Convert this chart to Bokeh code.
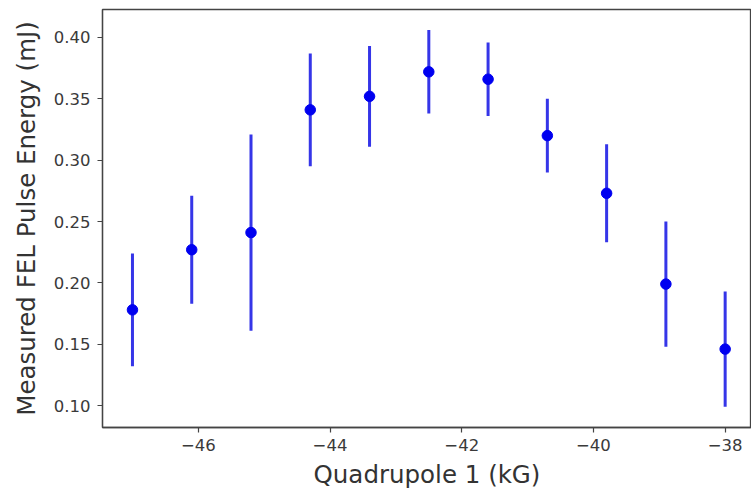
from bokeh.plotting import figure
from bokeh.models import Range1d, FixedTicker, ColumnDataSource
from bokeh.embed import file_html
from bokeh.resources import INLINE

# Data
quad_kG = [-47.0, -46.1, -45.2, -44.3, -43.4, -42.5, -41.6, -40.7, -39.8, -38.9, -38.0]
energy_mJ = [0.178, 0.227, 0.241, 0.341, 0.352, 0.372, 0.366, 0.320, 0.273, 0.199, 0.146]
energy_err = [0.046, 0.044, 0.080, 0.046, 0.041, 0.034, 0.030, 0.030, 0.040, 0.051, 0.047]

x_ticks = [-46, -44, -42, -40, -38]
x_tick_labels = ["\u221246", "\u221244", "\u221242", "\u221240", "\u221238"]
y_ticks = [0.10, 0.15, 0.20, 0.25, 0.30, 0.35, 0.40]
y_tick_labels = ["0.10", "0.15", "0.20", "0.25", "0.30", "0.35", "0.40"]

x_label = "Quadrupole 1 (kG)"
y_label = "Measured FEL Pulse Energy (mJ)"

src = ColumnDataSource(dict(
    x=quad_kG,
    y=energy_mJ,
    lo=[v - e for v, e in zip(energy_mJ, energy_err)],
    hi=[v + e for v, e in zip(energy_mJ, energy_err)],
))

p = figure(width=751, height=492, output_backend="svg", toolbar_location=None,
           x_range=Range1d(-47.455, -37.60), y_range=Range1d(0.0821, 0.4228),
           min_border_left=102, min_border_right=0, min_border_top=9, min_border_bottom=65)

p.background_fill_color = "white"
p.border_fill_color = "white"
p.outline_line_color = "#444444"
p.outline_line_width = 1.3
p.xgrid.visible = False
p.ygrid.visible = False

p.segment(x0="x", y0="lo", x1="x", y1="hi", source=src, line_color="#3535e8", line_width=3)
p.scatter(x="x", y="y", source=src, size=10.5, fill_color="#0000f0", line_color="#0000f0")

font = "DejaVu Sans"
for ax in (p.xaxis[0], p.yaxis[0]):
    ax.axis_line_color = "#444444"
    ax.axis_line_width = 1.3
    ax.major_tick_line_color = "#444444"
    ax.major_tick_line_width = 1.2
    ax.major_tick_out = 5
    ax.major_tick_in = 0
    ax.minor_tick_line_color = None
    ax.major_label_text_font = font
    ax.major_label_text_font_size = "16.5px"
    ax.major_label_text_color = "#3a3a3a"
    ax.axis_label_text_font = font
    ax.axis_label_text_font_size = "24.5px"
    ax.axis_label_text_font_style = "normal"
    ax.axis_label_text_color = "#333333"

p.xaxis[0].ticker = FixedTicker(ticks=x_ticks)
p.xaxis[0].major_label_overrides = {t: l for t, l in zip(x_ticks, x_tick_labels)}
p.xaxis[0].axis_label = x_label
p.xaxis[0].major_label_standoff = 6
p.xaxis[0].axis_label_standoff = 6

p.yaxis[0].ticker = FixedTicker(ticks=y_ticks)
p.yaxis[0].major_label_overrides = {t: l for t, l in zip(y_ticks, y_tick_labels)}
p.yaxis[0].axis_label = y_label
p.yaxis[0].major_label_standoff = 7
p.yaxis[0].axis_label_standoff = 10

open("out.html", "w").write(file_html(p, INLINE))
